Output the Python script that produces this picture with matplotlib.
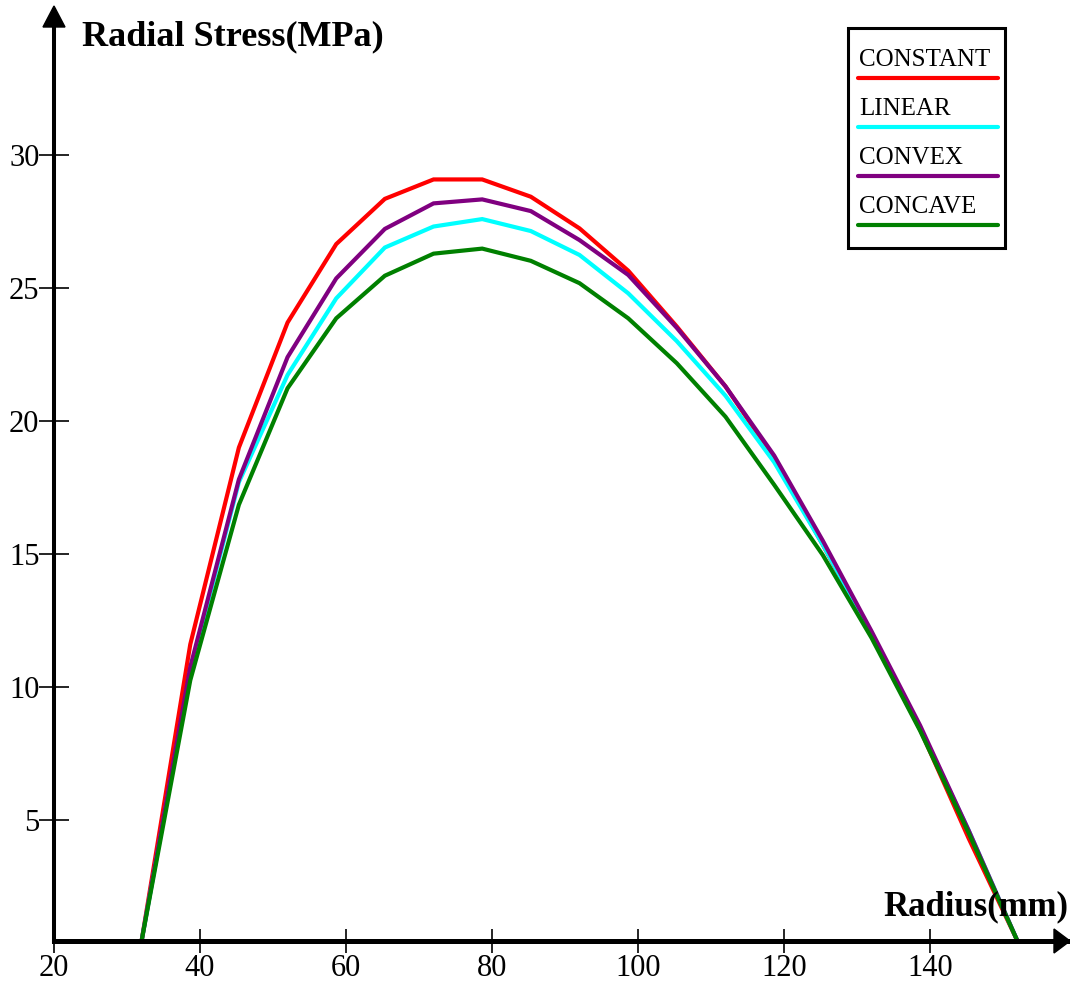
import matplotlib
matplotlib.use("Agg")
import matplotlib.pyplot as plt
from matplotlib.lines import Line2D
from matplotlib.patches import Rectangle, Polygon

# radius (mm)
radius = [32, 38.67, 45.33, 52, 58.67, 65.33, 72, 78.67, 85.33, 92,
          98.67, 105.33, 112, 118.67, 125.33, 132, 138.67, 145.33, 152]

# radial stress (MPa) for each profile
constant = [0.45, 11.6, 19.0, 23.7, 26.65, 28.35, 29.08, 29.08, 28.43, 27.24,
            25.65, 23.55, 21.3, 18.6, 15.35, 11.95, 8.4, 4.3, 0.45]
linear = [0.45, 10.6, 17.7, 21.73, 24.61, 26.52, 27.31, 27.59, 27.14, 26.24,
          24.8, 23.0, 20.95, 18.45, 15.35, 12.0, 8.45, 4.6, 0.45]
convex = [0.45, 10.75, 17.8, 22.4, 25.36, 27.22, 28.18, 28.33, 27.89, 26.8,
          25.49, 23.5, 21.3, 18.7, 15.5, 12.1, 8.55, 4.6, 0.45]
concave = [0.45, 10.25, 16.85, 21.23, 23.86, 25.46, 26.29, 26.48, 26.02, 25.18,
           23.86, 22.17, 20.16, 17.6, 14.96, 11.85, 8.35, 4.5, 0.45]

series = [("CONSTANT", constant, "#ff0000"),
          ("LINEAR", linear, "#00ffff"),
          ("CONVEX", convex, "#800080"),
          ("CONCAVE", concave, "#008000")]

xticks = [20, 40, 60, 80, 100, 120, 140]
yticks = [5, 10, 15, 20, 25, 30]

W, H = 1070, 985
serif = "Liberation Serif"


def fx(px):
    return px / W


def fy(py):
    return 1 - py / H


fig = plt.figure(figsize=(W / 100, H / 100), dpi=100)
ax = fig.add_axes([fx(54), fy(941), fx(1070) - fx(54), fy(10) - fy(941)])

for name, vals, col in series:
    ax.plot(radius, vals, color=col, lw=3.0, solid_joinstyle="miter", clip_on=False)

ax.set_xlim(20, 159.2)
ax.set_ylim(0.45, 35.45)
ax.set_xticks(xticks)
ax.set_yticks(yticks)
ax.set_xticklabels([str(t) for t in xticks], fontsize=22, family=serif)
ax.set_yticklabels([str(t) for t in yticks], fontsize=22, family=serif)
ax.tick_params(axis="x", direction="inout", length=17, width=1.2, pad=1)
ax.tick_params(axis="y", direction="inout", length=21, width=1.2, pad=0)

for s in ["top", "right"]:
    ax.spines[s].set_visible(False)
ax.spines["bottom"].set_linewidth(3.6)
ax.spines["left"].set_linewidth(2.9)

# arrow heads at axis ends
fig.add_artist(Polygon([(fx(54), fy(6)), (fx(43), fy(27)), (fx(65), fy(27))],
                       closed=True, color="black", transform=fig.transFigure))
fig.add_artist(Polygon([(fx(1070), fy(941)), (fx(1054), fy(929)), (fx(1054), fy(953))],
                       closed=True, color="black", transform=fig.transFigure))

# axis titles
fig.text(fx(82), fy(45), "Radial Stress(MPa)", fontsize=26, fontweight="bold",
         family=serif, ha="left", va="baseline")
fig.text(fx(1068), fy(915), "Radius(mm)", fontsize=25, fontweight="bold",
         family=serif, ha="right", va="baseline")

# legend box: text above each line sample
fig.add_artist(Rectangle((fx(848), fy(248)), fx(1005) - fx(848), fy(28) - fy(248),
                         fill=False, edgecolor="black", lw=2.2, transform=fig.transFigure))
for i, (name, vals, col) in enumerate(series):
    base = 66 + 49 * i
    fig.text(fx(859), fy(base), name, fontsize=18, family=serif,
             ha="left", va="baseline")
    fig.add_artist(Line2D([fx(858), fx(998)], [fy(base + 12), fy(base + 12)],
                          color=col, lw=3.0, solid_capstyle="round",
                          transform=fig.transFigure))

fig.savefig("out.png", dpi=100)
